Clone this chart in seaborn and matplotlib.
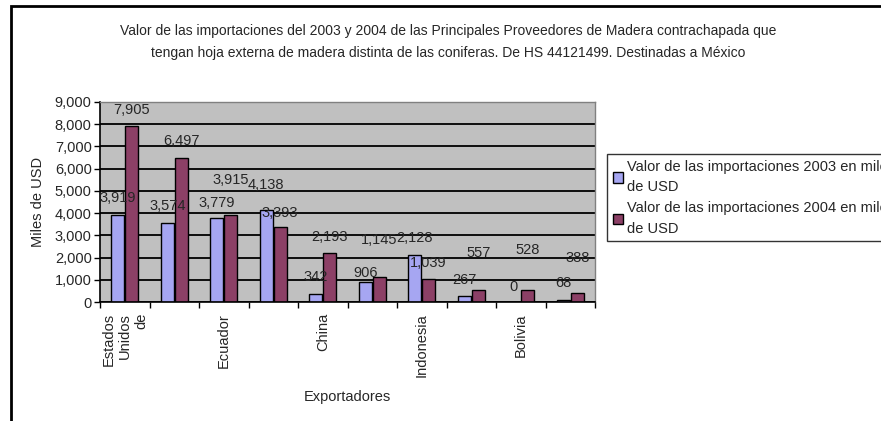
import matplotlib
matplotlib.use("Agg")
import pandas as pd
import seaborn as sns
import matplotlib.pyplot as plt
from matplotlib.patches import Rectangle
from matplotlib.ticker import FuncFormatter

# datos (miles de USD)
exportadores = ["Estados\nUnidos\nde", "", "Ecuador", "", "China", "", "Indonesia", "", "Bolivia", ""]
imp_2003 = [3919, 3574, 3779, 4138, 342, 906, 2128, 267, 0, 68]
imp_2004 = [7905, 6497, 3915, 3393, 2193, 1145, 1039, 557, 528, 388]
serie_2003 = "Valor de las importaciones 2003 en miles\nde USD"
serie_2004 = "Valor de las importaciones 2004 en miles\nde USD"

# separacion de las etiquetas de datos sobre cada barra (px), como en Excel
sep_2003 = [17, 17, 15, 25, 17, 9, 17, 16, 15, 17]
sep_2004 = [16, 17, 35, 14, 16, 37, 16, 37, 40, 35]

cats = [f"c{i}" for i in range(len(exportadores))]
df = pd.DataFrame({
    "pais": cats * 2,
    "valor": imp_2003 + imp_2004,
    "serie": [serie_2003] * len(cats) + [serie_2004] * len(cats),
})

sns.set_theme(style="white")
plt.rcParams["font.family"] = ["Liberation Sans", "DejaVu Sans"]
fs = 10.5

fig = plt.figure(figsize=(8.81, 4.21), dpi=100)
ax = fig.add_axes([100 / 881, 1 - 302 / 421, 495 / 881, 200 / 421])
ax.set_facecolor("#C0C0C0")

sns.barplot(data=df, x="pais", y="valor", hue="serie", order=cats,
            palette=["#9999FF", "#993366"], width=0.56, gap=0.05,
            edgecolor="black", linewidth=1, ax=ax, legend=True)

ax.set_ylim(0, 9000)
ax.set_xlim(-0.5, len(cats) - 0.5)
ax.set_yticks(range(0, 9001, 1000))
ax.yaxis.set_major_formatter(FuncFormatter(lambda v, p: f"{int(v):,}"))
ax.yaxis.grid(True, color="black", linewidth=1.3)
ax.set_axisbelow(True)

ax.set_xticks(range(len(cats)))
ax.set_xticklabels(exportadores, rotation=90, va="top", ha="center",
                   multialignment="right", fontsize=fs)
ax.set_xticks([i - 0.5 for i in range(len(cats) + 1)], minor=True)
ax.tick_params(axis="x", which="major", length=0, pad=8)
ax.tick_params(axis="x", which="minor", length=4, width=1, color="black", direction="out", bottom=True)
ax.tick_params(axis="y", length=4, width=1, color="black", direction="out", left=True,
               labelsize=fs, pad=2)

for side in ["left", "bottom"]:
    ax.spines[side].set_color("black")
    ax.spines[side].set_linewidth(1.2)
for side in ["top", "right"]:
    ax.spines[side].set_color("#808080")
    ax.spines[side].set_linewidth(1)

# etiquetas de datos
for cont, seps in zip(ax.containers, [sep_2003, sep_2004]):
    for bar, s in zip(cont, seps):
        h = bar.get_height()
        ax.annotate(f"{int(h):,}", (bar.get_x() + bar.get_width() / 2, h),
                    xytext=(0, s * 0.72), textcoords="offset points",
                    ha="center", va="center", fontsize=fs, annotation_clip=False)

ax.set_ylabel("Miles de USD", fontsize=fs, labelpad=7)
ax.set_xlabel("")
fig.text(347 / 881, 1 - 397 / 421, "Exportadores", ha="center", va="center", fontsize=fs)

fig.text(448 / 881, 1 - 42 / 421,
         "Valor de las importaciones del 2003 y 2004 de las Principales Proveedores de Madera contrachapada que\n"
         "tengan hoja externa de madera distinta de las coniferas. De HS 44121499. Destinadas a México",
         ha="center", va="center", fontsize=10, linespacing=1.65)

handles, labels = ax.get_legend_handles_labels()
ax.get_legend().remove()
leg = fig.legend(handles, labels, loc="upper left", bbox_to_anchor=(607 / 881, 1 - 154 / 421),
                 borderaxespad=0, frameon=True, fancybox=False, fontsize=fs,
                 handlelength=0.7, handleheight=0.7, handletextpad=0.3,
                 borderpad=0.4, labelspacing=0.45)
for t in leg.get_texts():
    t.set_linespacing(1.6)
leg.get_frame().set_edgecolor("black")
leg.get_frame().set_linewidth(1)

# marco del grafico
fig.patches.append(Rectangle((11 / 881, -0.1), 1.2, 1 - 6 / 421 + 0.1, transform=fig.transFigure,
                             fill=False, edgecolor="black", linewidth=2))

fig.savefig("out.png", dpi=100)
